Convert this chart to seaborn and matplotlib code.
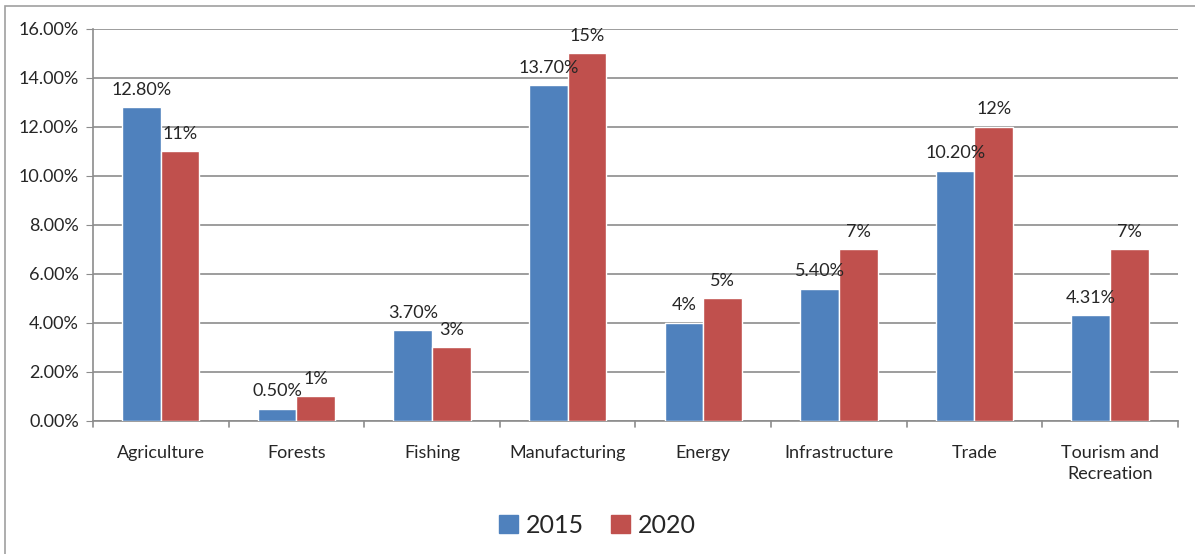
import numpy as np
import pandas as pd
import matplotlib.pyplot as plt
import matplotlib.patches as mpatches
import seaborn as sns

# Chart data
sectors = ['Agriculture', 'Forests', 'Fishing', 'Manufacturing', 'Energy',
           'Infrastructure', 'Trade', 'Tourism and\nRecreation']
years = ['2015', '2020']
values_2015 = [12.8, 0.5, 3.7, 13.7, 4.0, 5.4, 10.2, 4.31]
values_2020 = [11.0, 1.0, 3.0, 15.0, 5.0, 7.0, 12.0, 7.0]
labels_2015 = ['12.80%', '0.50%', '3.70%', '13.70%', '4%', '5.40%', '10.20%', '4.31%']
labels_2020 = ['11%', '1%', '3%', '15%', '5%', '7%', '12%', '7%']

df = pd.DataFrame({
    'sector': sectors * 2,
    'year': [years[0]] * len(sectors) + [years[1]] * len(sectors),
    'value': values_2015 + values_2020,
})

colors = {'2015': '#4f81bd', '2020': '#c0504d'}

sns.set_style('white')
plt.rcParams['font.family'] = ['Lato', 'DejaVu Sans']

fig = plt.figure(figsize=(11.95, 5.54), dpi=100)
ax = fig.add_axes([0.0778, 0.2401, 0.9079, 0.7076])

# outer chart border
fig.patches.append(mpatches.Rectangle((5 / 1195, -0.1), 1.2, 0.1 + 548 / 554,
                                      transform=fig.transFigure, fill=False,
                                      edgecolor='#a0a0a0', lw=1.2))

sns.barplot(data=df, x='sector', y='value', hue='year', palette=colors,
            width=0.57, gap=0, saturation=1, ax=ax, legend=False, zorder=3)

ax.set_xlim(-0.5, len(sectors) - 0.5)
ax.set_ylim(0, 16)
ax.set_yticks(np.arange(0, 16.1, 2))
ax.set_yticklabels([f'{v:.2f}%' for v in np.arange(0, 16.1, 2)], fontsize=13)
ax.yaxis.grid(True, color='#8c8c8c', lw=1.2, zorder=0)
ax.set_axisbelow(True)

for side in ['top', 'right']:
    ax.spines[side].set_visible(False)
for side in ['left', 'bottom']:
    ax.spines[side].set_color('#8c8c8c')
    ax.spines[side].set_linewidth(1.2)

ax.set_xlabel('')
ax.set_ylabel('')
ax.tick_params(axis='x', length=0, labelsize=13, pad=17)
ax.tick_params(axis='y', length=5, color='#8c8c8c', direction='out', left=True, pad=5)
for t in ax.get_xticklabels():
    t.set_linespacing(1.45)

# tick marks between categories
for b in np.arange(-0.5, len(sectors), 1.0):
    ax.plot([b, b], [0, -0.25], color='#8c8c8c', lw=1.2, clip_on=False)

# value labels
for bars, labs in zip(ax.containers, [labels_2015, labels_2020]):
    for bar, lab in zip(bars, labs):
        ax.text(bar.get_x() + bar.get_width() / 2, bar.get_height() + 0.4, lab,
                ha='center', va='bottom', fontsize=13)

handles = [mpatches.Patch(color=colors[y], label=y) for y in years]
fig.legend(handles=handles, loc='center', bbox_to_anchor=(0.5, 0.052), ncol=2,
           frameon=False, fontsize=18, handlelength=0.75, handleheight=0.75,
           handletextpad=0.3, columnspacing=1.1)

fig.savefig('out.png', dpi=100)
